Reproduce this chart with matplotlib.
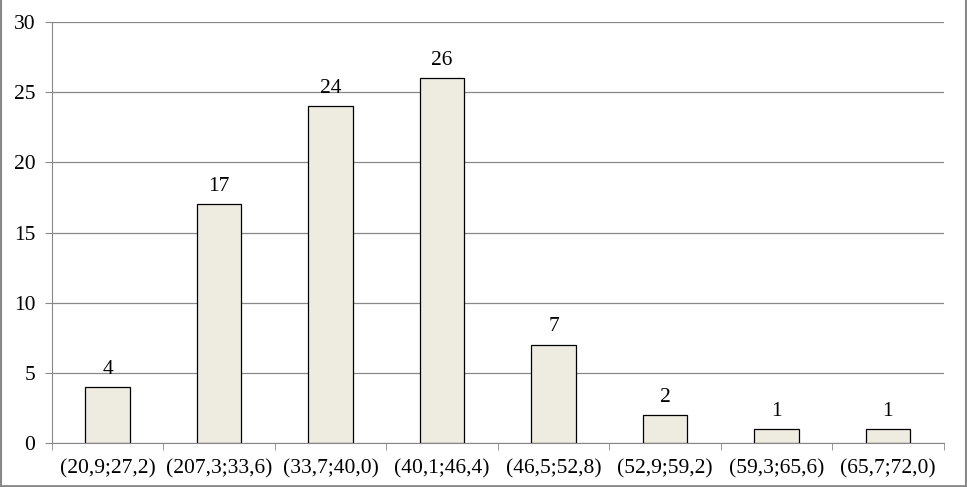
import matplotlib
matplotlib.use('Agg')
import matplotlib.pyplot as plt
from matplotlib.lines import Line2D

categories = ['(20,9;27,2)', '(207,3;33,6)', '(33,7;40,0)', '(40,1;46,4)',
              '(46,5;52,8)', '(52,9;59,2)', '(59,3;65,6)', '(65,7;72,0)']
counts = [4, 17, 24, 26, 7, 2, 1, 1]

plt.rcParams['font.family'] = ['Liberation Serif', 'DejaVu Serif']
FS = 15.5

fig = plt.figure(figsize=(9.67, 4.87), dpi=100)
ax = fig.add_axes([0.0538, 0.0903, 0.922, 0.8645])

x = list(range(len(categories)))
bars = ax.bar(x, counts, width=0.4, color='#EEECE1', edgecolor='black',
              linewidth=0.9, zorder=3)
for xi, v in zip(x, counts):
    ax.annotate(str(v), (xi, v), xytext=(0, 6), textcoords='offset points',
                ha='center', va='bottom', fontsize=FS)

ax.set_xlim(-0.5, len(categories) - 0.5)
ax.set_ylim(0, 30)
ax.set_yticks(range(0, 31, 5))
ax.yaxis.grid(True, color='#888888', linewidth=0.9, zorder=0)
ax.set_xticks(x)
ax.set_xticklabels(categories)
ax.set_xticks([i - 0.5 for i in range(len(categories) + 1)], minor=True)
ax.tick_params(axis='x', which='major', length=0, pad=12, labelsize=FS)
ax.tick_params(axis='x', which='minor', length=5, color='#888888', direction='out')
ax.tick_params(axis='y', length=5, color='#888888', labelsize=FS, pad=7)

for s in ['top', 'right']:
    ax.spines[s].set_visible(False)
ax.spines['left'].set_color('#888888')
ax.spines['bottom'].set_color('#888888')

# outer frame
fig.add_artist(Line2D([0.0008, 0.0008], [0, 1], color='#888888', lw=1.5))
fig.add_artist(Line2D([0.9985, 0.9985], [0, 1], color='#888888', lw=1.5))
fig.add_artist(Line2D([0, 1], [0.003, 0.003], color='#888888', lw=2))

fig.savefig('out.png', dpi=100)
